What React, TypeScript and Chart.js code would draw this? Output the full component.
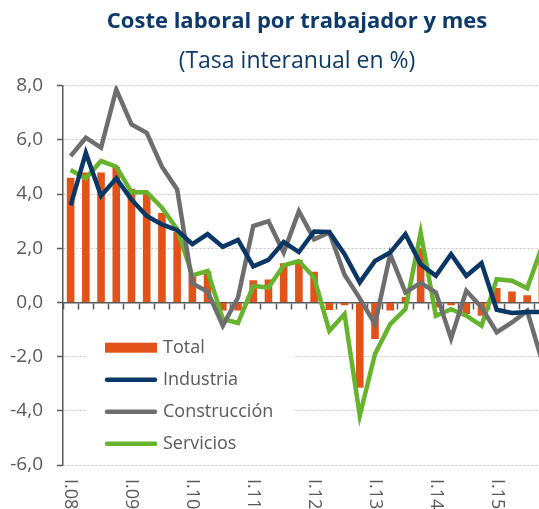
import React, { useEffect, useRef } from 'react';
import { Chart, registerables } from 'chart.js';

Chart.register(...registerables);

const categories = [
  'I.08', 'II.08', 'III.08', 'IV.08',
  'I.09', 'II.09', 'III.09', 'IV.09',
  'I.10', 'II.10', 'III.10', 'IV.10',
  'I.11', 'II.11', 'III.11', 'IV.11',
  'I.12', 'II.12', 'III.12', 'IV.12',
  'I.13', 'II.13', 'III.13', 'IV.13',
  'I.14', 'II.14', 'III.14', 'IV.14',
  'I.15', 'II.15', 'III.15', 'IV.15',
];

const xTickLabels = ['I.08', 'I.09', 'I.10', 'I.11', 'I.12', 'I.13', 'I.14', 'I.15'];

const total = [4.6, 4.8, 4.8, 5.0, 4.2, 4.0, 3.3, 2.6, 1.0, 1.15, -0.3, -0.3, 0.82, 0.85, 1.45, 1.57,
  1.13, -0.28, -0.1, -3.15, -1.35, -0.3, 0.2, 2.0, -0.19, -0.1, -0.43, -0.49, 0.53, 0.4, 0.27, 1.7];

const industria = [3.58, 5.52, 3.93, 4.58, 3.8, 3.19, 2.88, 2.67, 2.15, 2.52, 2.05, 2.31, 1.33, 1.57, 2.23, 1.86,
  2.62, 2.6, 1.78, 0.74, 1.53, 1.84, 2.52, 1.41, 0.98, 1.78, 0.98, 1.45, -0.27, -0.39, -0.35, -0.35];

const construccion = [5.4, 6.08, 5.71, 7.86, 6.57, 6.26, 5.01, 4.17, 0.7, 0.4, -0.86, 0.18, 2.82, 3.0, 1.84, 3.37,
  2.33, 2.58, 1.02, 0.15, -0.8, 1.78, 0.37, 0.72, 0.37, -1.33, 0.43, -0.18, -1.1, -0.74, -0.31, -2.2];

const servicios = [4.89, 4.58, 5.22, 5.01, 4.07, 4.07, 3.5, 2.7, 1.0, 1.16, -0.61, -0.76, 0.61, 0.55, 1.37, 1.53,
  0.92, -1.05, -0.43, -4.18, -1.9, -0.8, -0.25, 2.58, -0.49, -0.25, -0.49, -0.86, 0.86, 0.8, 0.52, 2.1];

const seriesNames = ['Total', 'Industria', 'Construcción', 'Servicios'];
const colors = ['#e2531a', '#0b3766', '#6e6e6e', '#66b32e'];

const TEXT = '#595959';
const FONT = '"Open Sans", "Noto Sans", sans-serif';

const xLabelsPlugin = {
  id: 'xLabels',
  afterDraw(chart: any) {
    const { ctx, scales, chartArea } = chart;
    const x = scales.x;
    ctx.save();
    ctx.font = `18px ${FONT}`;
    ctx.fillStyle = TEXT;
    ctx.textAlign = 'left';
    ctx.textBaseline = 'middle';
    categories.forEach((c, i) => {
      if (!xTickLabels.includes(c)) return;
      const px = x.getPixelForValue(i);
      ctx.save();
      ctx.translate(px, chartArea.bottom + 14);
      ctx.rotate(Math.PI / 2);
      ctx.fillText(c, 0, 0);
      ctx.restore();
    });
    ctx.restore();
  },
};

const legendPlugin = {
  id: 'innerLegend',
  afterDraw(chart: any) {
    const { ctx, chartArea } = chart;
    const bx = chartArea.left + 23;
    const by = chartArea.top + 247;
    const bw = 207;
    const bh = 125;
    ctx.save();
    ctx.fillStyle = '#ffffff';
    ctx.fillRect(bx, by, bw, bh);
    const sx = bx + 19;
    const sw = 52;
    const tx = sx + sw + 6;
    chart.data.datasets.forEach((ds: any, i: number) => {
      const cy = by + 15 + i * 32;
      if (ds.type === 'bar') {
        ctx.fillStyle = ds.backgroundColor;
        ctx.fillRect(sx, cy - 5, sw, 10);
      } else {
        ctx.strokeStyle = ds.borderColor;
        ctx.lineWidth = 4.5;
        ctx.lineCap = 'round';
        ctx.beginPath();
        ctx.moveTo(sx + 2, cy);
        ctx.lineTo(sx + sw - 2, cy);
        ctx.stroke();
      }
      ctx.fillStyle = TEXT;
      ctx.font = `18px ${FONT}`;
      ctx.textAlign = 'left';
      ctx.textBaseline = 'middle';
      ctx.fillText(ds.label, tx, cy);
    });
    ctx.restore();
  },
};

export default function App() {
  const canvasRef = useRef<HTMLCanvasElement | null>(null);

  useEffect(() => {
    if (!canvasRef.current) return;
    const lineDs = (label: string, data: number[], color: string) => ({
      type: 'line' as const,
      label,
      data,
      borderColor: color,
      backgroundColor: color,
      borderWidth: 4.5,
      pointRadius: 0,
      pointHoverRadius: 0,
      tension: 0,
      fill: false,
    });
    const chart = new Chart(canvasRef.current, {
      type: 'bar',
      data: {
        labels: categories,
        datasets: [
          {
            type: 'bar' as const,
            label: seriesNames[0],
            data: total,
            backgroundColor: colors[0],
            borderWidth: 0,
            barPercentage: 0.5,
            categoryPercentage: 1,
            order: 2,
          },
          { ...lineDs(seriesNames[1], industria, colors[1]), order: 1 },
          { ...lineDs(seriesNames[2], construccion, colors[2]), order: 1 },
          { ...lineDs(seriesNames[3], servicios, colors[3]), order: 1 },
        ] as any,
      },
      options: {
        animation: false,
        responsive: true,
        maintainAspectRatio: false,
        layout: { padding: { left: 0, right: 0, top: 0, bottom: 44 } },
        plugins: {
          legend: { display: false },
          tooltip: { enabled: false },
          title: {
            display: true,
            text: 'Coste laboral por trabajador y mes',
            color: '#0e3a6b',
            font: { family: FONT, size: 22, weight: 'bold' },
            padding: { top: 9, bottom: 12 },
          },
          subtitle: {
            display: true,
            text: '(Tasa interanual en %)',
            color: '#0e3a6b',
            font: { family: FONT, size: 23, weight: 'normal' },
            padding: { top: 0, bottom: 10.7 },
          },
        },
        scales: {
          x: {
            type: 'category',
            position: { y: 0 } as any,
            offset: true,
            ticks: { display: false },
            grid: {
              offset: true,
              drawOnChartArea: false,
              drawTicks: true,
              tickLength: 6,
              tickColor: TEXT,
              tickWidth: 1.5,
            },
            border: { display: true, color: TEXT, width: 1.5 },
          },
          y: {
            min: -6,
            max: 8,
            afterFit: (s: any) => { s.width = 63; },
            ticks: {
              stepSize: 2,
              color: TEXT,
              padding: 14,
              font: { family: FONT, size: 19 },
              callback: (v: any) => Number(v).toFixed(1).replace('.', ','),
            },
            grid: {
              color: (c: any) => (c.tick && c.tick.value === 0 ? 'rgba(0,0,0,0)' : '#c4c4c4'),
              lineWidth: 1,
              drawTicks: true,
              tickLength: 6,
              tickColor: TEXT,
              tickWidth: 1.5,
            },
            border: { display: true, color: TEXT, width: 1.5, dash: [2, 2] },
          },
          yRight: {
            type: 'linear',
            position: 'right',
            display: true,
            afterFit: (s: any) => { s.width = 44; },
            ticks: { display: false },
            grid: { display: false, drawTicks: false },
            border: { display: false },
          },
        },
      },
      plugins: [xLabelsPlugin, legendPlugin],
    });
    return () => chart.destroy();
  }, []);

  return (
    <div style={{ position: 'fixed', left: 0, top: 0, width: 539, height: 509, overflow: 'hidden', background: '#fff' }}>
      <div style={{ position: 'relative', width: 594, height: 509 }}>
        <canvas ref={canvasRef} />
      </div>
    </div>
  );
}
